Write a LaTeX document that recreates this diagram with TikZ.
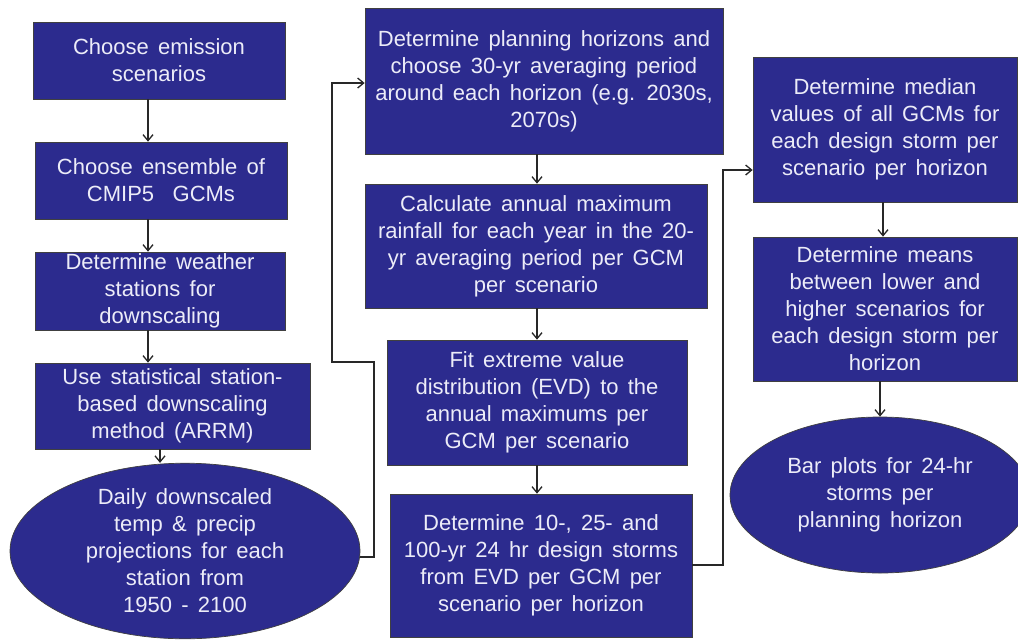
\documentclass[tikz,border=0pt]{standalone}
\usepackage{fontspec}
\setmainfont{Liberation Sans}
\usetikzlibrary{shapes.geometric,arrows.meta}
\definecolor{boxblue}{RGB}{44,43,142}
\definecolor{boxtext}{RGB}{236,236,248}
\definecolor{linegray}{RGB}{40,40,40}
\newcommand\flowfont{\fontsize{22}{27}\selectfont\spaceskip=0.42em plus 0.1em minus 0.05em\relax}
\tikzset{
  stepbox/.style={rectangle, draw=black!75, line width=0.7pt, fill=boxblue, text=boxtext,
    font=\flowfont, align=center, inner sep=0pt},
  endoval/.style={ellipse, draw=black!75, line width=0.7pt, fill=boxblue, text=boxtext,
    font=\flowfont, align=center, inner sep=0pt},
  arr/.style={draw=linegray, line width=1.3pt, -{Straight Barb[length=6pt,width=10pt,line width=1.3pt]}},
  link/.style={draw=linegray, line width=1.3pt}
}
\begin{document}
\begin{tikzpicture}[x=1pt,y=-1pt]
\useasboundingbox (0,0) rectangle (1018,641);
\clip (0,0) rectangle (1018,641);
\fill[white] (0,0) rectangle (1018,641);
% left column
\node[stepbox, minimum width=252pt, minimum height=77pt] (b1) at (159,60.5) {Choose emission\\scenarios};
\node[stepbox, minimum width=252pt, minimum height=77pt] (b2) at (161,180.5) {Choose ensemble of\\CMIP5 \ GCMs};
\node[stepbox, minimum width=250pt, minimum height=78pt] (b3) at (160,291) {Determine weather\\stations for\\downscaling};
\node[stepbox, minimum width=275pt, minimum height=86pt] (b4) at (172.5,406) {Use statistical station-\\based downscaling\\method (ARRM)};
\node[endoval, minimum width=350pt, minimum height=166pt] (e1) at (185,551) {Daily downscaled\\temp \& precip\\projections for each\\station from\\1950 - 2100};
% middle column
\node[stepbox, minimum width=358pt, minimum height=146pt] (b5) at (544,81) {Determine planning horizons and\\choose 30-yr averaging period\\around each horizon (e.g. 2030s,\\2070s)};
\node[stepbox, minimum width=342pt, minimum height=124pt] (b6) at (536,246) {Calculate annual maximum\\rainfall for each year in the 20-\\yr averaging period per GCM\\per scenario};
\node[stepbox, minimum width=300pt, minimum height=125pt] (b7) at (537,402.5) {Fit extreme value\\distribution (EVD) to the\\annual maximums per\\GCM per scenario};
\node[stepbox, minimum width=302pt, minimum height=143pt] (b8) at (541,565.5) {Determine 10-, 25- and\\100-yr 24 hr design storms\\from EVD per GCM per\\scenario per horizon};
% right column
\node[stepbox, minimum width=264pt, minimum height=145pt] (b9) at (885,129.5) {Determine median\\values of all GCMs for\\each design storm per\\scenario per horizon};
\node[stepbox, minimum width=264pt, minimum height=144pt] (b10) at (885,309) {Determine means\\between lower and\\higher scenarios for\\each design storm per\\horizon};
\node[endoval, minimum width=300pt, minimum height=156pt] (e2) at (880,495) {Bar plots for 24-hr\\storms per\\planning horizon};
% anchor columns for arrows
\coordinate (xa) at (148,0);
\coordinate (xb) at (160,0);
\coordinate (xc) at (537,0);
\coordinate (xd) at (883,0);
\coordinate (xe) at (880,0);
\draw[arr] (b1.south -| xa) -- (b2.north -| xa);
\draw[arr] (b2.south -| xa) -- (b3.north -| xa);
\draw[arr] (b3.south -| xa) -- (b4.north -| xa);
\draw[arr] (b4.south -| xb) -- (e1.north -| xb);
\draw[arr] (b5.south -| xc) -- (b6.north -| xc);
\draw[arr] (b6.south -| xc) -- (b7.north -| xc);
\draw[arr] (b7.south -| xc) -- (b8.north -| xc);
\draw[arr] (b9.south -| xd) -- (b10.north -| xd);
\draw[arr] (b10.south -| xe) -- (e2.north -| xe);
% loop connectors
\coordinate (p1) at (374,557);
\coordinate (p2) at (374,362);
\coordinate (p3) at (332,362);
\coordinate (p4) at (332,83);
\draw[arr] (e1.east |- p1) -- (p1) -- (p2) -- (p3) -- (p4) -- (b5.west |- p4);
\coordinate (q1) at (723,565);
\coordinate (q2) at (723,170);
\draw[arr] (b8.east |- q1) -- (q1) -- (q2) -- (b9.west |- q2);
\end{tikzpicture}
\end{document}
